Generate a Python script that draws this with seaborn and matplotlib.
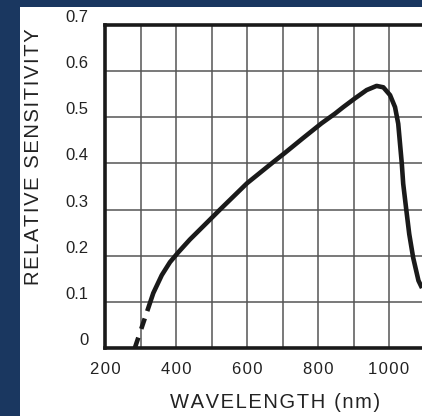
import matplotlib
matplotlib.use('Agg')
import matplotlib.pyplot as plt
import seaborn as sns
import pandas as pd
from matplotlib.patches import Rectangle

# spectral response
wavelength = [319, 336, 360, 383, 406, 439, 477, 524, 600, 674, 707, 758,
              810, 848, 871, 904, 937, 965, 984, 1003, 1017, 1026, 1031,
              1036, 1040, 1048, 1057, 1068, 1083, 1093]
sensitivity = [0.08, 0.119, 0.158, 0.186, 0.207, 0.235, 0.264, 0.300, 0.357,
               0.403, 0.423, 0.455, 0.487, 0.508, 0.522, 0.541, 0.559, 0.568,
               0.565, 0.548, 0.522, 0.486, 0.443, 0.40, 0.356, 0.304, 0.247,
               0.196, 0.146, 0.13]
# extrapolated low end, drawn dashed
dash_wavelength = [284, 319]
dash_sensitivity = [0.0, 0.08]

x_ticks = [200, 400, 600, 800, 1000]
y_ticks = [0, 0.1, 0.2, 0.3, 0.4, 0.5, 0.6, 0.7]
y_tick_labels = ['0', '0.1', '0.2', '0.3', '0.4', '0.5', '0.6', '0.7']


def spaced(s):
    # hair spaces to mimic the loose letter spacing of the scan
    return '\u200a'.join(s)


sns.set_style('white')
plt.rcParams['font.family'] = ['Liberation Sans', 'DejaVu Sans']

W, H = 422, 416
fig = plt.figure(figsize=(W / 100, H / 100), dpi=100)
fig.patch.set_facecolor('#1a3760')
fig.patches.append(Rectangle((20 / W, 0), 1, (H - 7) / H, transform=fig.transFigure,
                             facecolor='white', edgecolor='none', zorder=-10))

ax = fig.add_axes([105 / W, (H - 348) / H, (W - 105) / W, (348 - 25) / H])
ax.set_facecolor('white')

df = pd.DataFrame({'wavelength': wavelength, 'sensitivity': sensitivity})
sns.lineplot(data=df, x='wavelength', y='sensitivity', ax=ax, color='#1a1a1a',
             linewidth=3.3, sort=False, zorder=5, solid_joinstyle='round',
             solid_capstyle='butt')
ax.plot(dash_wavelength, dash_sensitivity, color='#1a1a1a', linewidth=3.3,
        linestyle=(0, (2.4, 2.0)), zorder=5)

ax.set_xlim(200, 200 + (W - 105) / 0.355)
ax.set_ylim(0, 0.7)

# grid every 100 nm and every 0.1
for gx in range(300, 1200, 100):
    ax.axvline(gx, color='#555555', linewidth=1.1, zorder=1)
for gy in y_ticks[1:-1]:
    ax.axhline(gy, color='#555555', linewidth=1.1, zorder=1)

ax.set_xticks(x_ticks)
ax.set_xticklabels([spaced(str(t)) for t in x_ticks])
ax.set_yticks(y_ticks)
ax.set_yticklabels(y_tick_labels)
ax.tick_params(length=0, labelsize=12, labelcolor='#222222')
ax.tick_params(axis='x', pad=10)
ax.tick_params(axis='y', pad=12)
for lab in ax.get_yticklabels():
    lab.set_verticalalignment('bottom')

for side in ['left', 'bottom', 'top']:
    ax.spines[side].set_linewidth(2.6)
    ax.spines[side].set_color('#1a1a1a')
ax.spines['right'].set_visible(False)

ax.set_xlabel('')
ax.set_ylabel('')
fig.text(275 / W, 1 - 402 / H, spaced('WAVELENGTH (nm)'), ha='center', va='center',
         fontsize=14.5, color='#222222')
fig.text(34 / W, 1 - 157 / H, spaced('RELATIVE SENSITIVITY'), ha='center', va='center',
         rotation=90, fontsize=14.5, color='#222222')

fig.savefig('out.png', dpi=100, facecolor=fig.get_facecolor())
